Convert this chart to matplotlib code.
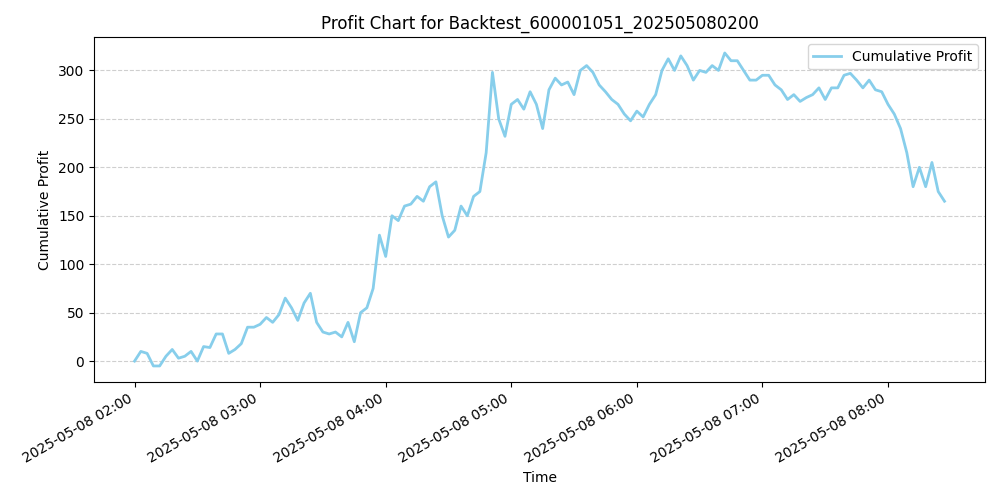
import pandas as pd
import matplotlib
import matplotlib.pyplot as plt
import matplotlib.dates as mdates

matplotlib.use("Agg")

# cumulative profit sampled every 3 minutes from 02:00
start_time = "2025-05-08 02:00"
step_minutes = 3
profit = [
    0, 10, 8, -5, -5, 5, 12, 3, 5, 10,
    0, 15, 14, 28, 28, 8, 12, 18, 35, 35,
    38, 45, 40, 48, 65, 55, 42, 60, 70, 40,
    30, 28, 30, 25, 40, 20, 50, 55, 75, 130,
    108, 150, 145, 160, 162, 170, 165, 180, 185, 150,
    128, 135, 160, 150, 170, 175, 215, 298, 250, 232,
    265, 270, 260, 278, 265, 240, 280, 292, 285, 288,
    275, 300, 305, 298, 285, 278, 270, 265, 255, 248,
    258, 252, 265, 275, 300, 312, 300, 315, 305, 290,
    300, 298, 305, 300, 318, 310, 310, 300, 290, 290,
    295, 295, 285, 280, 270, 275, 268, 272, 275, 282,
    270, 282, 282, 295, 297, 290, 282, 290, 280, 278,
    265, 255, 240, 215, 180, 200, 180, 205, 175, 165,
]
title = "Profit Chart for Backtest_600001051_202505080200"

times = pd.date_range(start_time, periods=len(profit), freq=f"{step_minutes}min")

fig, ax = plt.subplots(figsize=(10, 5), dpi=100)
ax.plot(times, profit, color="skyblue", linewidth=2, label="Cumulative Profit")
ax.set_title(title)
ax.set_xlabel("Time")
ax.set_ylabel("Cumulative Profit")
ax.grid(axis="y", linestyle="--", alpha=0.6)
ax.legend(loc="upper right")
ax.xaxis.set_major_locator(mdates.HourLocator())
ax.xaxis.set_major_formatter(mdates.DateFormatter("%Y-%m-%d %H:%M"))
fig.autofmt_xdate()
fig.tight_layout()
fig.savefig("out.png")
plt.close(fig)
